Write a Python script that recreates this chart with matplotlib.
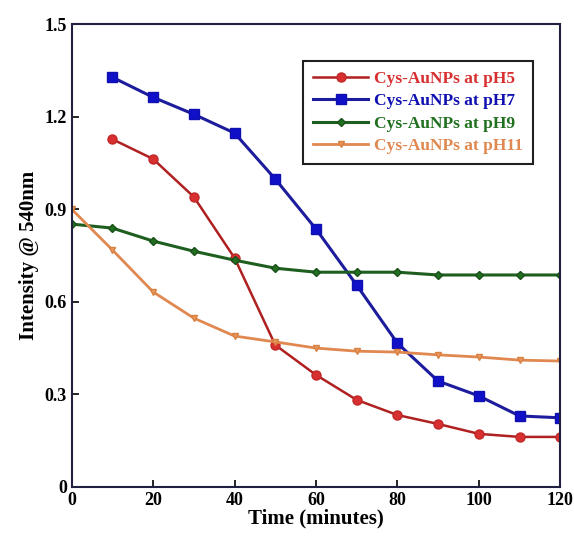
import numpy as np
import matplotlib.pyplot as plt

plt.rcParams['font.family'] = ['Liberation Serif', 'DejaVu Serif']

t_full = [0, 10, 20, 30, 40, 50, 60, 70, 80, 90, 100, 110, 120]
t_late = [10, 20, 30, 40, 50, 60, 70, 80, 90, 100, 110, 120]

ph5 = [1.127, 1.063, 0.94, 0.742, 0.46, 0.363, 0.282, 0.233, 0.204, 0.172, 0.162, 0.162]
ph7 = [1.328, 1.263, 1.208, 1.147, 0.998, 0.836, 0.654, 0.466, 0.343, 0.295, 0.23, 0.224]
ph9 = [0.852, 0.839, 0.797, 0.764, 0.735, 0.709, 0.696, 0.696, 0.696, 0.687, 0.687, 0.687, 0.687]
ph11 = [0.9, 0.768, 0.632, 0.547, 0.489, 0.47, 0.45, 0.44, 0.437, 0.428, 0.421, 0.411, 0.408]

labels = ['Cys-AuNPs at pH5', 'Cys-AuNPs at pH7', 'Cys-AuNPs at pH9', 'Cys-AuNPs at pH11']

fig = plt.figure(figsize=(5.74, 5.38), dpi=100)
ax = fig.add_axes([0.125, 0.095, 0.851, 0.86])

ax.plot(t_late, ph5, color='#b02020', marker='o', markersize=6.5, mfc='#d83030', mec='#c02828',
        linewidth=1.8, label=labels[0])
ax.plot(t_late, ph7, color='#1c1c9c', marker='s', markersize=7.5, mfc='#1010c8', mec='#1010b0',
        linewidth=2.2, label=labels[1])
ax.plot(t_full, ph9, color='#1e5e1e', marker='D', markersize=4, mfc='#207020', mec='#1a501a',
        linewidth=2.2, label=labels[2])
ax.plot(t_full, ph11, color='#e08850', marker='v', markersize=4, mfc='#e89a60', mec='#d88040',
        linewidth=2.0, label=labels[3])

ax.set_xlim(0, 120)
ax.set_ylim(0, 1.5)
ax.set_xticks(np.arange(0, 121, 20))
ax.set_yticks([0, 0.3, 0.6, 0.9, 1.2, 1.5])
ax.set_yticklabels(['0', '0.3', '0.6', '0.9', '1.2', '1.5'])
ax.tick_params(direction='in', labelsize=13, width=1.2, length=5)
for lab in ax.get_xticklabels() + ax.get_yticklabels():
    lab.set_fontweight('bold')
for s in ax.spines.values():
    s.set_linewidth(1.5)
    s.set_color('#202040')

ax.set_xlabel('Time (minutes)', fontsize=15, fontweight='bold', labelpad=0)
ax.set_ylabel('Intensity @ 540nm', fontsize=15, fontweight='bold', labelpad=4)

leg = ax.legend(loc='upper right', bbox_to_anchor=(0.962, 0.94), fontsize=12.5, fancybox=False,
                framealpha=1, edgecolor='#202020', handlelength=3.2, borderpad=0.6,
                labelspacing=0.35, handletextpad=0.3)
leg.get_frame().set_linewidth(1.5)
for txt, c in zip(leg.get_texts(), ['#d83030', '#1010b0', '#207020', '#e08850']):
    txt.set_color(c)
    txt.set_fontweight('bold')

fig.savefig('out.png', dpi=100)
